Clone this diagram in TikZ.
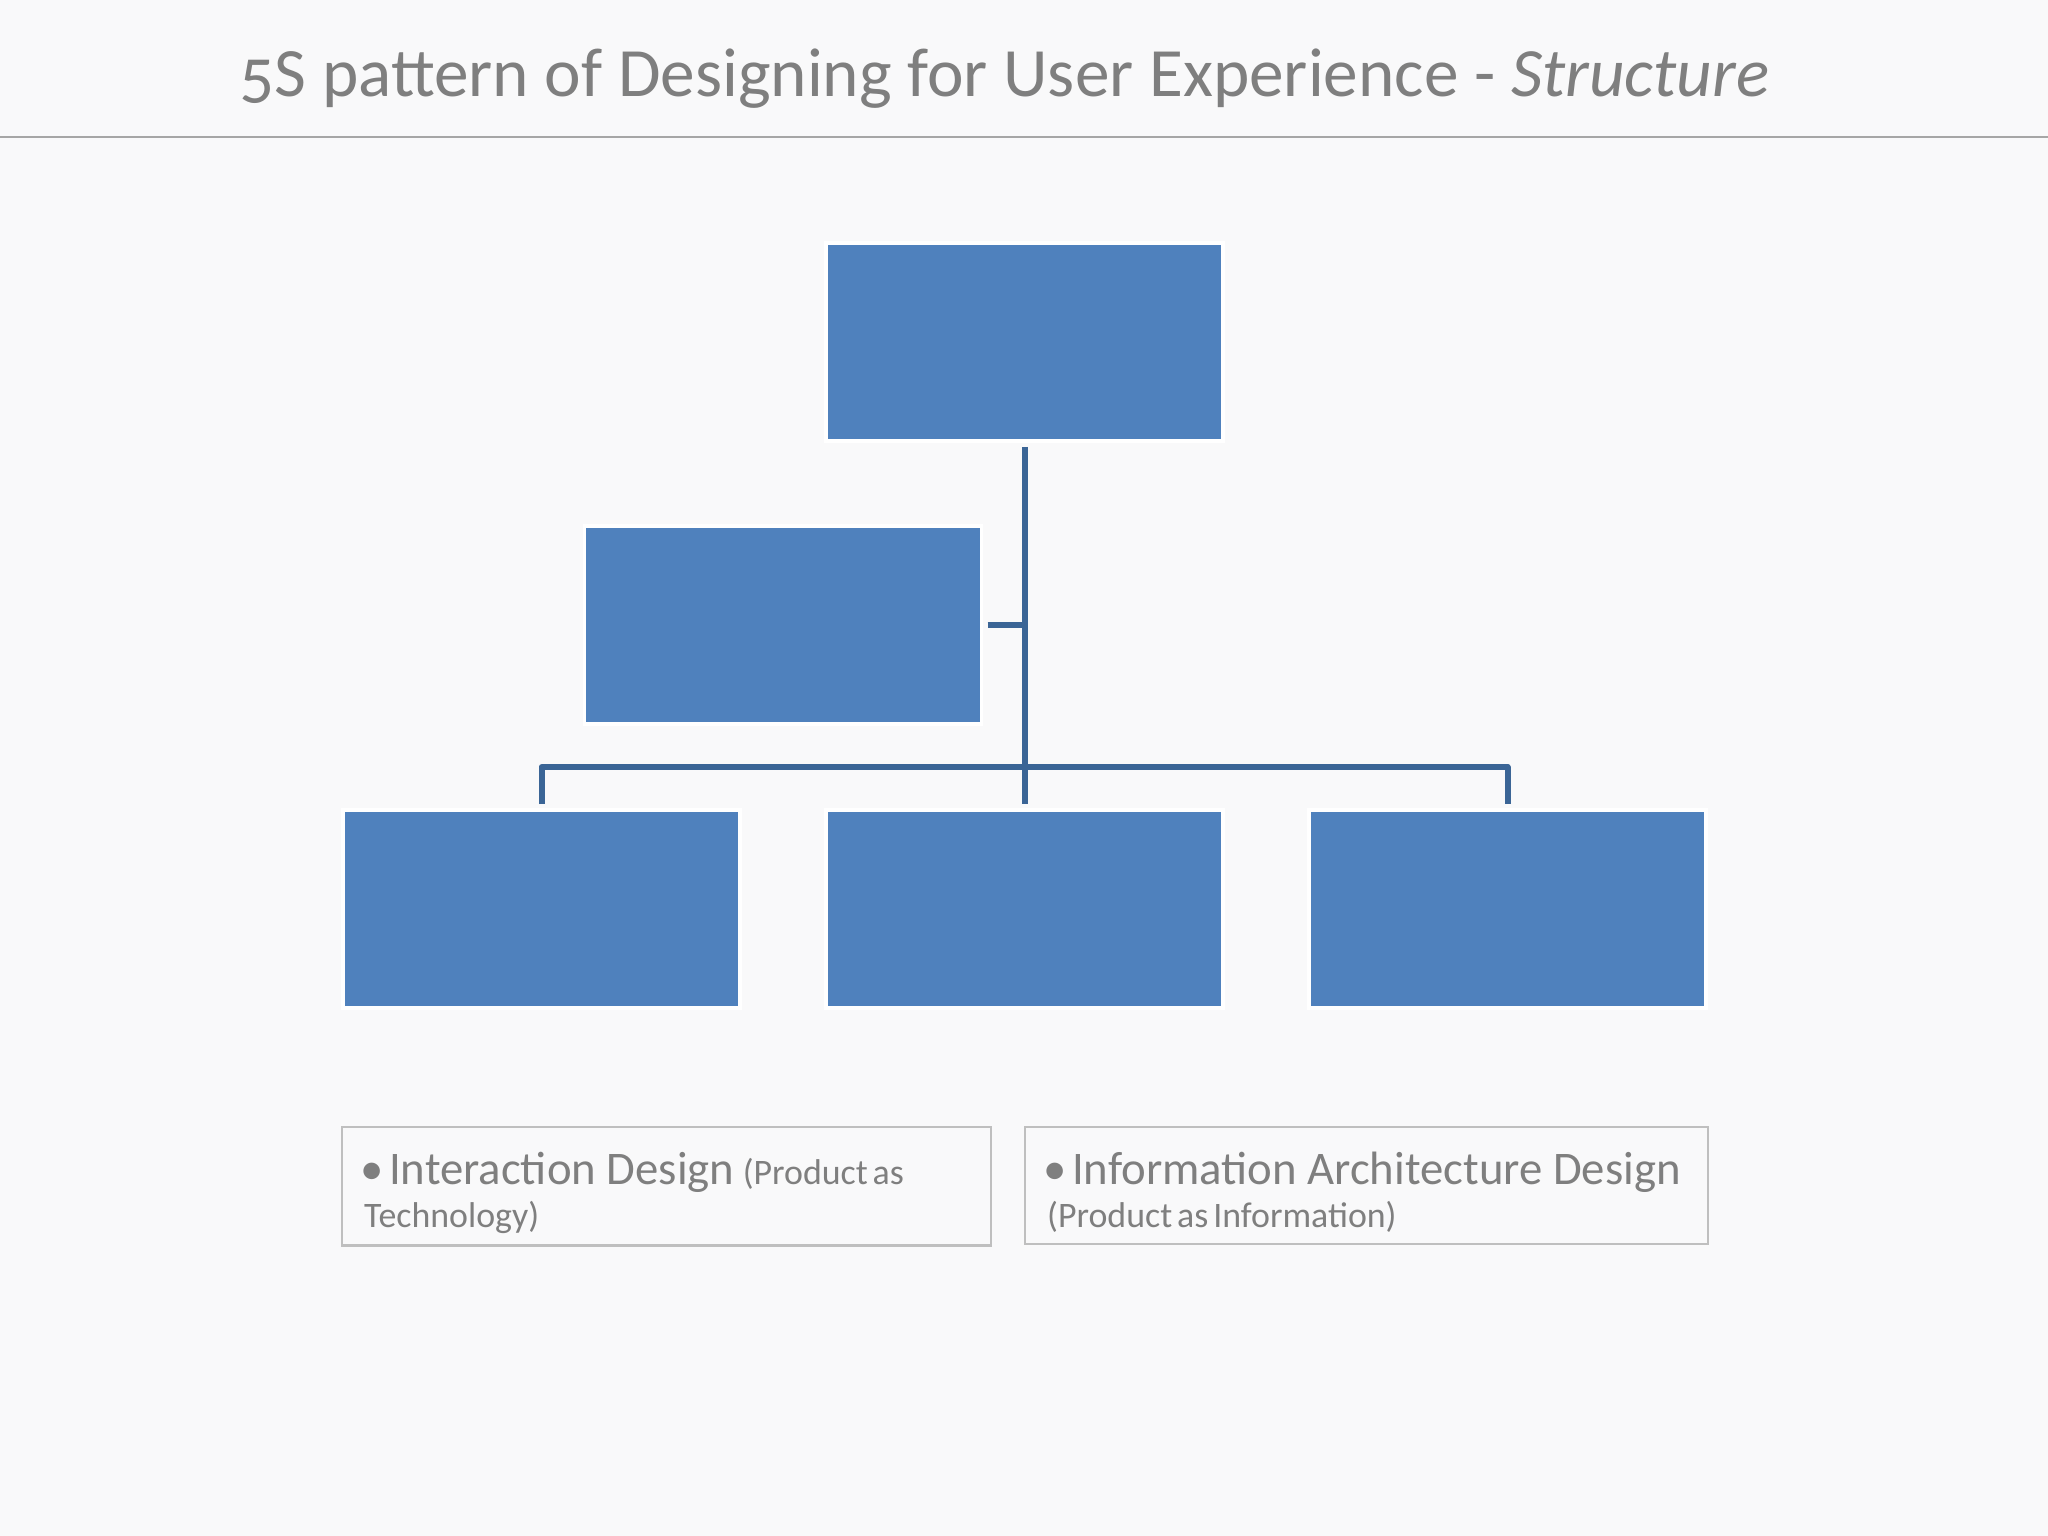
\documentclass[tikz,border=0pt]{standalone}
\usepackage{fontspec}
\setmainfont{Carlito}[Numbers=OldStyle]
\usetikzlibrary{positioning}
\definecolor{fundo}{HTML}{F9F9FA}
\definecolor{caixa}{HTML}{4F81BD}
\definecolor{ligacao}{HTML}{3B6596}
\definecolor{texto}{HTML}{7F7F7F}
\definecolor{moldura}{HTML}{BFBFBF}
\definecolor{regua}{HTML}{A6A6A6}
\newcommand\notelead[1]{\spaceskip=1.4pt plus 0.3pt\relax\mbox{\rule{0pt}{13pt}\hspace{-0.04cm}\fontsize{13.3}{12.2}\selectfont\spaceskip=0pt\relax\textbullet\hspace{1.6pt}#1}\hspace{1pt}}
\begin{document}
\begin{tikzpicture}[node distance=0.74cm,
    orgbox/.style={draw=white, line width=1pt, fill=caixa, minimum width=3.97cm, minimum height=1.98cm, inner sep=0pt, outer sep=0.06cm},
    link/.style={draw=ligacao, line width=0.06cm, line join=round},
    notebox/.style={draw=moldura, line width=0.7pt, minimum height=1.17cm, text=texto, align=left, anchor=north west, inner xsep=0.22cm, font=\fontsize{10.2}{12.2}\selectfont}]
        % Fundo e moldura da pagina
        \fill[fundo, use as bounding box] (0,0) rectangle (20.48,-15.36);
        % Titulo e regua
        \node[anchor=base west, inner sep=0pt, text=texto, font=\fontsize{19.7}{24}\selectfont] (titulo) at (2.39,-0.97) {5S pattern of Designing for User Experience - \textit{Structure}};
        \coordinate (reguaE) at (0,-1.37);
        \coordinate (reguaD) at (20.48,-1.37);
        \draw[regua, line width=0.8pt] (reguaE) -- (reguaD);
        % Define as caixas do organograma
        \node[orgbox] (raiz) at (10.245,-3.42) {};
        \node[orgbox, below=3.57cm of raiz] (filho2) {};
        \node[orgbox, left=of filho2] (filho1) {};
        \node[orgbox, right=of filho2] (filho3) {};
        \node[orgbox, above=of filho1, xshift=2.415cm] (assist) {};
        % Conecta as caixas
        \coordinate (barra) at (10.24,-7.67);
        \draw[link] (raiz.south) -- (raiz.south |- filho2.north);
        \draw[link] (assist.east) -- (assist.east -| raiz.south);
        \draw[link] (filho1.north) |- (barra) -| (filho3.north);
        % Adiciona as notas
        \node[notebox, text width=6.05cm] (notaE) at (3.41,-11.26) {\notelead{Interaction Design} (Product as\\Technology)};
        \node[notebox, text width=6.39cm] (notaD) at (10.24,-11.26) {\notelead{Information Architecture Design}\\(Product as Information)};
    \end{tikzpicture}
\end{document}
